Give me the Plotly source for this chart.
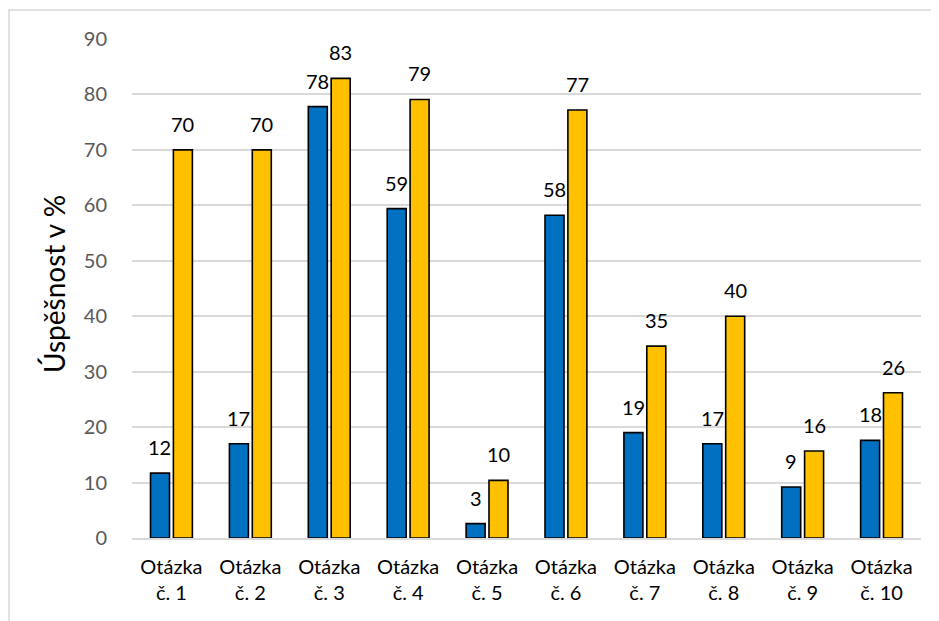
import plotly.graph_objects as go

categories = ["Otázka<br>č. 1", "Otázka<br>č. 2", "Otázka<br>č. 3", "Otázka<br>č. 4", "Otázka<br>č. 5",
              "Otázka<br>č. 6", "Otázka<br>č. 7", "Otázka<br>č. 8", "Otázka<br>č. 9", "Otázka<br>č. 10"]
series_blue = [11.7, 17.0, 77.8, 59.4, 2.6, 58.2, 19.0, 17.0, 9.2, 17.6]
series_gold = [70.0, 70.0, 82.9, 79.1, 10.4, 77.2, 34.6, 40.0, 15.7, 26.2]
y_ticks = [0, 10, 20, 30, 40, 50, 60, 70, 80, 90]

FONT = "Lato"
FS = 20
fig = go.Figure()
fig.add_trace(go.Bar(x=categories, y=series_blue, marker=dict(color="#0070C0", line=dict(color="black", width=1.6)),
                     showlegend=False, hoverinfo="skip"))
fig.add_trace(go.Bar(x=categories, y=series_gold, marker=dict(color="#FFC000", line=dict(color="black", width=1.6)),
                     showlegend=False, hoverinfo="skip"))

annotations = []
for c, v in zip(categories, series_blue):
    annotations.append(dict(x=c, y=v, text=f"{int(v + 0.5)}", showarrow=False, xshift=-11.5, yshift=12,
                            yanchor="bottom", font=dict(family=FONT, size=FS, color="black")))
for c, v in zip(categories, series_gold):
    annotations.append(dict(x=c, y=v, text=f"{int(v + 0.5)}", showarrow=False, xshift=11.5, yshift=12,
                            yanchor="bottom", font=dict(family=FONT, size=FS, color="black")))

# page body has an 8px offset in the browser
W, H = 939, 621
ml, mr, mt, mb = 124, 26, 31, 91
pw, ph = W - ml - mr, H - mt - mb

annotations.append(dict(xref="paper", yref="paper", x=(46 - ml) / pw, y=(H - mb - 276) / ph, text="Úspěšnost v %",
                        textangle=-90, showarrow=False, xanchor="center", yanchor="middle",
                        font=dict(family=FONT, size=28, color="black")))

fig.update_layout(
    width=W, height=H,
    margin=dict(l=ml, r=mr, t=mt, b=mb, autoexpand=False),
    paper_bgcolor="white", plot_bgcolor="white",
    barmode="group", bargap=0.42, bargroupgap=0.17,
    annotations=annotations,
    font=dict(family=FONT, size=FS, color="black"),
    shapes=[dict(type="rect", xref="paper", yref="paper",
                 x0=(1 - ml) / pw, x1=(W + 20 - ml) / pw,
                 y0=-(H + 20 - mt - ph) / ph, y1=1 + (mt - 2) / ph,
                 line=dict(color="#D9D9D9", width=1.5), fillcolor="rgba(0,0,0,0)", layer="below")],
)
fig.update_yaxes(range=[0, 90], tickvals=y_ticks, showgrid=True, gridcolor="#D9D9D9", gridwidth=1.5,
                 zeroline=False, showline=False, ticklabelstandoff=24, automargin=False,
                 tickfont=dict(family=FONT, size=FS, color="#595959"))
fig.update_xaxes(showline=True, linecolor="#D9D9D9", linewidth=1.5, ticks="", automargin=False,
                 tickfont=dict(family=FONT, size=FS, color="black"), ticklabelstandoff=10)

fig.write_html("out.html")
